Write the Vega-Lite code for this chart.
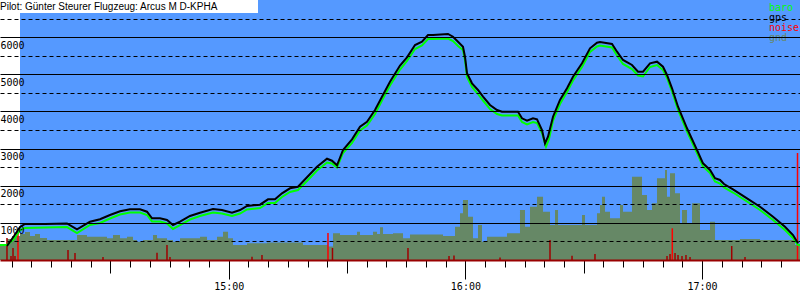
{
  "$schema": "https://vega.github.io/schema/vega-lite/v6.json",
  "width": 800,
  "height": 260,
  "autosize": {"type": "none"},
  "padding": {"left": 0, "top": 0, "right": 0, "bottom": 40},
  "background": "white",
  "config": {"view": {"stroke": null}},
  "title": {"text": "Pilot: Günter Steurer Flugzeug: Arcus M D-KPHA", "anchor": "start", "frame": "group", "offset": -20, "baseline": "alphabetic", "font": "Liberation Sans", "fontSize": 10, "fontWeight": "normal", "color": "black"},
  "datasets": {
    "gps": [
      {"t": 3.80, "alt": 377}, {"t": 5.58, "alt": 646}, {"t": 7.10, "alt": 888}, {"t": 8.37, "alt": 969}, {"t": 13.44, "alt": 969},
      {"t": 19.01, "alt": 983}, {"t": 21.55, "alt": 827}, {"t": 24.84, "alt": 1031}, {"t": 27.38, "alt": 1096}, {"t": 29.91, "alt": 1212},
      {"t": 32.45, "alt": 1311}, {"t": 34.98, "alt": 1365}, {"t": 37.52, "alt": 1365}, {"t": 39.29, "alt": 1300}, {"t": 40.56, "alt": 1123},
      {"t": 42.59, "alt": 1123}, {"t": 44.36, "alt": 1077}, {"t": 45.88, "alt": 942}, {"t": 47.66, "alt": 1031}, {"t": 50.19, "alt": 1185},
      {"t": 52.73, "alt": 1273}, {"t": 56.02, "alt": 1373}, {"t": 58.30, "alt": 1346}, {"t": 60.84, "alt": 1273}, {"t": 62.87, "alt": 1346},
      {"t": 64.64, "alt": 1454}, {"t": 67.94, "alt": 1489}, {"t": 69.97, "alt": 1634}, {"t": 71.74, "alt": 1634}, {"t": 73.51, "alt": 1796},
      {"t": 75.54, "alt": 1930}, {"t": 77.57, "alt": 1973}, {"t": 79.85, "alt": 2227}, {"t": 82.39, "alt": 2512}, {"t": 84.92, "alt": 2727},
      {"t": 86.19, "alt": 2673}, {"t": 87.46, "alt": 2550}, {"t": 88.98, "alt": 2962}, {"t": 91.26, "alt": 3250}, {"t": 93.29, "alt": 3589},
      {"t": 95.06, "alt": 3723}, {"t": 97.09, "alt": 4038}, {"t": 98.86, "alt": 4397}, {"t": 100.89, "alt": 4800}, {"t": 103.43, "alt": 5236},
      {"t": 105.20, "alt": 5457}, {"t": 107.23, "alt": 5788}, {"t": 109.00, "alt": 5877}, {"t": 110.52, "alt": 6058}, {"t": 111.79, "alt": 6058},
      {"t": 115.59, "alt": 6085}, {"t": 116.86, "alt": 6012}, {"t": 118.13, "alt": 5877}, {"t": 119.39, "alt": 5743}, {"t": 119.90, "alt": 5473},
      {"t": 120.41, "alt": 5027}, {"t": 121.68, "alt": 4757}, {"t": 123.20, "alt": 4577}, {"t": 124.47, "alt": 4397}, {"t": 126.24, "alt": 4173},
      {"t": 128.02, "alt": 4038}, {"t": 129.28, "alt": 3993}, {"t": 133.34, "alt": 3993}, {"t": 134.35, "alt": 3815}, {"t": 135.62, "alt": 3750},
      {"t": 137.14, "alt": 3815}, {"t": 138.16, "alt": 3788}, {"t": 139.42, "alt": 3500}, {"t": 140.18, "alt": 3142}, {"t": 140.94, "alt": 3320},
      {"t": 142.21, "alt": 3858}, {"t": 143.98, "alt": 4308}, {"t": 145.76, "alt": 4623}, {"t": 147.28, "alt": 4935}, {"t": 149.56, "alt": 5296},
      {"t": 151.59, "alt": 5700}, {"t": 153.36, "alt": 5850}, {"t": 154.12, "alt": 5869}, {"t": 157.17, "alt": 5815}, {"t": 158.44, "alt": 5608},
      {"t": 159.95, "alt": 5385}, {"t": 162.23, "alt": 5250}, {"t": 163.76, "alt": 5069}, {"t": 165.03, "alt": 5069}, {"t": 166.80, "alt": 5296},
      {"t": 168.57, "alt": 5339}, {"t": 170.09, "alt": 5204}, {"t": 171.11, "alt": 4981}, {"t": 172.38, "alt": 4623}, {"t": 173.90, "alt": 4127},
      {"t": 176.18, "alt": 3546}, {"t": 178.71, "alt": 2962}, {"t": 180.23, "alt": 2603}, {"t": 182.01, "alt": 2423}, {"t": 183.28, "alt": 2200},
      {"t": 184.54, "alt": 2154}, {"t": 185.56, "alt": 2046}, {"t": 187.84, "alt": 1903}, {"t": 191.39, "alt": 1661}, {"t": 194.68, "alt": 1435},
      {"t": 197.98, "alt": 1166}, {"t": 201.02, "alt": 897}, {"t": 203.05, "alt": 673}, {"t": 204.32, "alt": 450}
    ],
    "baro": [
      {"t": 2.03, "alt": 404}, {"t": 3.80, "alt": 404}, {"t": 5.58, "alt": 565}, {"t": 7.10, "alt": 808}, {"t": 8.37, "alt": 862},
      {"t": 13.44, "alt": 875}, {"t": 19.01, "alt": 888}, {"t": 21.55, "alt": 727}, {"t": 24.84, "alt": 942}, {"t": 27.38, "alt": 996},
      {"t": 29.91, "alt": 1117}, {"t": 32.45, "alt": 1225}, {"t": 34.98, "alt": 1279}, {"t": 37.52, "alt": 1279}, {"t": 39.29, "alt": 1212},
      {"t": 40.56, "alt": 1037}, {"t": 42.59, "alt": 1037}, {"t": 44.36, "alt": 983}, {"t": 45.88, "alt": 835}, {"t": 47.66, "alt": 942},
      {"t": 50.19, "alt": 1090}, {"t": 52.73, "alt": 1185}, {"t": 56.02, "alt": 1279}, {"t": 58.30, "alt": 1252}, {"t": 60.84, "alt": 1185},
      {"t": 62.87, "alt": 1252}, {"t": 64.64, "alt": 1360}, {"t": 67.94, "alt": 1400}, {"t": 69.97, "alt": 1535}, {"t": 71.74, "alt": 1535},
      {"t": 73.51, "alt": 1696}, {"t": 75.54, "alt": 1831}, {"t": 77.57, "alt": 1885}, {"t": 79.85, "alt": 2127}, {"t": 82.39, "alt": 2410},
      {"t": 84.92, "alt": 2625}, {"t": 86.19, "alt": 2598}, {"t": 87.46, "alt": 2490}, {"t": 88.98, "alt": 2881}, {"t": 91.26, "alt": 3150},
      {"t": 93.29, "alt": 3487}, {"t": 95.06, "alt": 3621}, {"t": 97.09, "alt": 3931}, {"t": 98.86, "alt": 4294}, {"t": 100.89, "alt": 4698},
      {"t": 103.43, "alt": 5129}, {"t": 105.20, "alt": 5358}, {"t": 107.23, "alt": 5681}, {"t": 109.00, "alt": 5775}, {"t": 110.52, "alt": 5950},
      {"t": 111.79, "alt": 5950}, {"t": 115.59, "alt": 5963}, {"t": 116.86, "alt": 5896}, {"t": 118.13, "alt": 5762}, {"t": 119.39, "alt": 5654},
      {"t": 119.90, "alt": 5385}, {"t": 120.41, "alt": 4927}, {"t": 121.68, "alt": 4658}, {"t": 123.20, "alt": 4469}, {"t": 124.47, "alt": 4294},
      {"t": 126.24, "alt": 4065}, {"t": 128.02, "alt": 3931}, {"t": 129.28, "alt": 3890}, {"t": 133.34, "alt": 3890}, {"t": 134.35, "alt": 3715},
      {"t": 135.62, "alt": 3648}, {"t": 137.14, "alt": 3715}, {"t": 138.16, "alt": 3688}, {"t": 139.42, "alt": 3419}, {"t": 140.44, "alt": 3050},
      {"t": 141.20, "alt": 3258}, {"t": 142.21, "alt": 3756}, {"t": 143.98, "alt": 4200}, {"t": 145.76, "alt": 4523}, {"t": 147.28, "alt": 4833},
      {"t": 149.56, "alt": 5196}, {"t": 151.59, "alt": 5600}, {"t": 153.36, "alt": 5748}, {"t": 154.12, "alt": 5775}, {"t": 157.17, "alt": 5721},
      {"t": 158.44, "alt": 5506}, {"t": 159.95, "alt": 5277}, {"t": 162.23, "alt": 5142}, {"t": 163.76, "alt": 4967}, {"t": 165.03, "alt": 4940},
      {"t": 166.80, "alt": 5196}, {"t": 168.57, "alt": 5250}, {"t": 170.09, "alt": 5115}, {"t": 171.11, "alt": 4900}, {"t": 172.38, "alt": 4537},
      {"t": 173.90, "alt": 4038}, {"t": 176.18, "alt": 3460}, {"t": 178.71, "alt": 2881}, {"t": 180.23, "alt": 2517}, {"t": 182.01, "alt": 2342},
      {"t": 183.28, "alt": 2113}, {"t": 184.54, "alt": 2060}, {"t": 185.56, "alt": 1952}, {"t": 187.84, "alt": 1817}, {"t": 191.39, "alt": 1575},
      {"t": 194.68, "alt": 1346}, {"t": 197.98, "alt": 1077}, {"t": 201.02, "alt": 808}, {"t": 203.05, "alt": 592}, {"t": 204.32, "alt": 404},
      {"t": 204.82, "alt": 404}
    ],
    "gnd": [
      {"t": 2.03, "alt": 423}, {"t": 3.80, "alt": 565}, {"t": 5.07, "alt": 646}, {"t": 7.10, "alt": 700}, {"t": 8.37, "alt": 754},
      {"t": 9.63, "alt": 646}, {"t": 10.90, "alt": 700}, {"t": 12.17, "alt": 592}, {"t": 13.94, "alt": 538}, {"t": 21.55, "alt": 673},
      {"t": 24.08, "alt": 627}, {"t": 29.15, "alt": 584}, {"t": 30.67, "alt": 673}, {"t": 32.45, "alt": 584}, {"t": 34.22, "alt": 627},
      {"t": 35.74, "alt": 538}, {"t": 36.76, "alt": 493}, {"t": 38.28, "alt": 538}, {"t": 40.81, "alt": 673}, {"t": 41.83, "alt": 584},
      {"t": 44.36, "alt": 538}, {"t": 45.88, "alt": 493}, {"t": 47.66, "alt": 584}, {"t": 52.73, "alt": 627}, {"t": 54.50, "alt": 538},
      {"t": 57.04, "alt": 627}, {"t": 58.56, "alt": 762}, {"t": 59.83, "alt": 584}, {"t": 61.09, "alt": 404}, {"t": 64.64, "alt": 450},
      {"t": 69.71, "alt": 471}, {"t": 78.84, "alt": 404}, {"t": 85.17, "alt": 363}, {"t": 86.44, "alt": 719}, {"t": 88.22, "alt": 673},
      {"t": 92.53, "alt": 762}, {"t": 93.29, "alt": 673}, {"t": 96.58, "alt": 762}, {"t": 97.60, "alt": 700}, {"t": 98.36, "alt": 880},
      {"t": 99.12, "alt": 700}, {"t": 101.65, "alt": 719}, {"t": 104.19, "alt": 584}, {"t": 105.96, "alt": 687}, {"t": 114.33, "alt": 646},
      {"t": 117.37, "alt": 897}, {"t": 118.64, "alt": 1257}, {"t": 119.39, "alt": 1615}, {"t": 120.66, "alt": 1166}, {"t": 121.93, "alt": 584},
      {"t": 123.20, "alt": 942}, {"t": 124.21, "alt": 493}, {"t": 125.48, "alt": 627}, {"t": 130.55, "alt": 719}, {"t": 133.84, "alt": 1346},
      {"t": 135.11, "alt": 897}, {"t": 136.38, "alt": 1435}, {"t": 138.16, "alt": 1704}, {"t": 139.68, "alt": 1300}, {"t": 141.45, "alt": 942},
      {"t": 142.72, "alt": 1346}, {"t": 143.48, "alt": 942}, {"t": 149.56, "alt": 1212}, {"t": 150.32, "alt": 942}, {"t": 153.36, "alt": 1257},
      {"t": 154.12, "alt": 1481}, {"t": 154.63, "alt": 1704}, {"t": 155.39, "alt": 1300}, {"t": 156.66, "alt": 1123}, {"t": 159.19, "alt": 1481},
      {"t": 159.95, "alt": 1300}, {"t": 162.23, "alt": 2243}, {"t": 164.77, "alt": 1750}, {"t": 166.04, "alt": 1346}, {"t": 167.31, "alt": 1527},
      {"t": 168.57, "alt": 2200}, {"t": 170.60, "alt": 2423}, {"t": 171.11, "alt": 1704}, {"t": 171.87, "alt": 2334}, {"t": 173.14, "alt": 1796},
      {"t": 174.40, "alt": 988}, {"t": 174.91, "alt": 1346}, {"t": 176.18, "alt": 988}, {"t": 177.45, "alt": 1527}, {"t": 179.47, "alt": 808},
      {"t": 182.01, "alt": 1031}, {"t": 183.28, "alt": 538}, {"t": 189.61, "alt": 565}, {"t": 194.68, "alt": 538}, {"t": 203.56, "alt": 404},
      {"t": 204.82, "alt": 404}
    ],
    "noise": [
      {"t": 3.80, "alt": 592}, {"t": 4.82, "alt": 108}, {"t": 5.33, "alt": 323}, {"t": 5.83, "alt": 108}, {"t": 6.59, "alt": 727},
      {"t": 19.27, "alt": 269}, {"t": 21.04, "alt": 188}, {"t": 28.14, "alt": 81}, {"t": 41.83, "alt": 197}, {"t": 44.36, "alt": 404},
      {"t": 45.12, "alt": 81}, {"t": 65.91, "alt": 89}, {"t": 68.44, "alt": 135}, {"t": 85.17, "alt": 727}, {"t": 86.31, "alt": 323},
      {"t": 105.45, "alt": 323}, {"t": 115.85, "alt": 108}, {"t": 117.11, "alt": 121}, {"t": 128.78, "alt": 67}, {"t": 141.45, "alt": 538},
      {"t": 147.03, "alt": 116}, {"t": 152.85, "alt": 162}, {"t": 171.11, "alt": 108}, {"t": 171.87, "alt": 160}, {"t": 172.45, "alt": 853},
      {"t": 173.14, "alt": 188}, {"t": 173.90, "alt": 135}, {"t": 174.91, "alt": 108}, {"t": 175.92, "alt": 135}, {"t": 176.94, "alt": 81},
      {"t": 187.51, "alt": 377}, {"t": 190.88, "alt": 81}, {"t": 204.19, "alt": 2881}
    ],
    "panels": [
      {"part": "sky", "t": 7.1, "t1": 204.82, "alt": 0, "alt1": 7000},
      {"part": "titlebox", "t": 2.03, "t1": 67.43, "alt": 6650, "alt1": 7000}
    ]
  },
  "encoding": {
    "x": {
      "field": "t", "type": "quantitative",
      "scale": {"domain": [2.03, 204.82], "nice": false, "zero": false},
      "axis": {
        "title": null, "zindex": 1, "grid": false,
        "values": [5, 10, 15, 20, 25, 30, 35, 40, 45, 50, 55, 60, 65, 70, 75, 80, 85, 90, 95, 100, 105, 110, 115, 120, 125, 130, 135, 140, 145, 150, 155, 160, 165, 170, 175, 180, 185, 190, 195, 200],
        "labelExpr": "datum.value % 60 === 0 ? (14 + datum.value / 60) + ':00' : ''",
        "tickSize": {"condition": [{"test": "datum.value % 60 === 0", "value": 19}, {"test": "datum.value % 30 === 0", "value": 13}], "value": 7},
        "tickColor": "black", "tickWidth": 1,
        "domainColor": "#990000", "domainWidth": 2,
        "labelFont": "DejaVu Sans Mono", "labelFontSize": 10, "labelColor": "black",
        "labelPadding": 2, "labelOverlap": false, "labelFlush": false, "labelBound": false
      }
    },
    "y": {
      "field": "alt", "type": "quantitative",
      "scale": {"domain": [0, 7000], "nice": false, "zero": true},
      "axis": {
        "title": null, "zindex": 1, "orient": "left",
        "values": [500, 1000, 1500, 2000, 2500, 3000, 3500, 4000, 4500, 5000, 5500, 6000, 6500],
        "format": "d",
        "labelExpr": "datum.value % 1000 === 0 ? datum.label : ''",
        "grid": true, "gridColor": "black", "gridWidth": 1, "gridOpacity": 1,
        "gridDash": {"condition": {"test": "datum.value % 1000 === 0", "value": []}, "value": [4, 3]},
        "ticks": false, "tickSize": 0, "domain": false,
        "labelAlign": "left", "labelBaseline": "top", "labelPadding": 0, "labelOffset": 3,
        "labelFont": "DejaVu Sans Mono", "labelFontSize": 10, "labelColor": "black",
        "labelOverlap": false, "labelFlush": false, "labelBound": false
      }
    }
  },
  "layer": [
    {
      "data": {"name": "panels"},
      "mark": {"type": "rect"},
      "encoding": {
        "x2": {"field": "t1"},
        "y2": {"field": "alt1"},
        "fill": {"field": "part", "type": "nominal", "scale": {"domain": ["sky", "titlebox"], "range": ["#5599ff", "#ffffff"]}, "legend": null}
      }
    },
    {
      "data": {"name": "gnd"},
      "mark": {"type": "area", "interpolate": "step-after", "opacity": 1},
      "encoding": {
        "y2": {"datum": 0},
        "color": {"datum": "gnd", "type": "nominal",
          "scale": {"domain": ["baro", "gps", "noise", "gnd"], "range": ["#00ff00", "#000000", "#ff0000", "#668866"]},
          "legend": {
            "orient": "none", "legendX": 759, "legendY": 3, "title": null, "direction": "vertical",
            "symbolSize": 0, "symbolStrokeWidth": 0, "symbolOpacity": 0, "symbolType": "circle",
            "labelFont": "DejaVu Sans Mono", "labelFontSize": 10, "labelOffset": 0, "labelLimit": 0,
            "rowPadding": 0, "padding": 0, "offset": 0,
            "encode": {"labels": {"update": {"fill": {"scale": "color", "field": "value"}}}}
          }
        }
      }
    },
    {
      "data": {"name": "noise"},
      "mark": {"type": "rule", "strokeWidth": 1.5},
      "encoding": {
        "y2": {"datum": 0},
        "stroke": {"condition": {"test": "datum.alt > 600", "value": "#ff0000"}, "value": "#a00000"}
      }
    },
    {
      "data": {"name": "baro"},
      "mark": {"type": "line", "strokeWidth": 2},
      "encoding": {"color": {"datum": "baro", "type": "nominal"}}
    },
    {
      "data": {"name": "gps"},
      "mark": {"type": "line", "strokeWidth": 2},
      "encoding": {"color": {"datum": "gps", "type": "nominal"}}
    }
  ]
}
